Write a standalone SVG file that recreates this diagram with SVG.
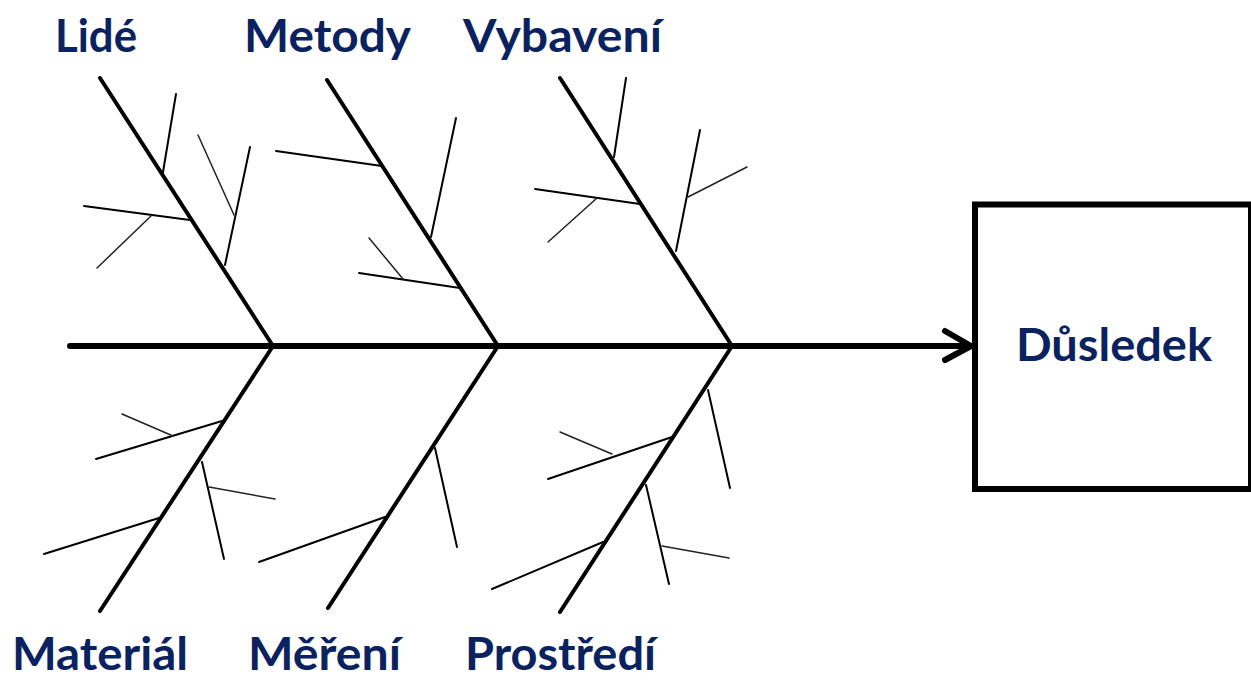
<svg xmlns="http://www.w3.org/2000/svg" width="1251" height="680" viewBox="0 0 1251 680">
  <style>
    .label { font-family: Lato, "Open Sans", "Liberation Sans", sans-serif; font-weight: bold; font-size: 46px; fill: #0b2260; }
    .bone { stroke: #000; stroke-width: 4; stroke-linecap: round; fill: none; }
    .cause { stroke: #000; stroke-width: 2; stroke-linecap: round; fill: none; }
    .sub { stroke: #222; stroke-width: 1.5; stroke-linecap: round; fill: none; }
    .spine { stroke: #000; stroke-width: 6; stroke-linecap: round; fill: none; }
    .box { fill: #fff; stroke: #000; stroke-width: 6; }
  </style>
  <defs>
    <marker id="arrow" markerUnits="userSpaceOnUse" markerWidth="40" markerHeight="40" refX="30" refY="20" orient="auto" overflow="visible">
      <path d="M4,5 L30,20 L4,34" fill="none" stroke="#000" stroke-width="6" stroke-linecap="round" stroke-linejoin="round"/>
    </marker>
  </defs>

  <rect width="1251" height="680" fill="#fff"/>

  <!-- main spine leading to the effect box -->
  <g id="connectors">
    <line class="spine" x1="70" y1="346" x2="971" y2="346" marker-end="url(#arrow)"/>
  </g>

  <!-- upper categories -->
  <g id="lide">
    <line class="bone" x1="100" y1="78" x2="273" y2="346"/>
    <line class="cause" x1="163" y1="172" x2="176" y2="94"/>
    <line class="cause" x1="190" y1="220" x2="84" y2="206"/>
    <line class="sub" x1="151" y1="216" x2="97" y2="268"/>
    <line class="cause" x1="225" y1="265" x2="250" y2="147"/>
    <line class="sub" x1="234" y1="215" x2="198" y2="135"/>
    <text class="label" x="55" y="52" textLength="82" lengthAdjust="spacingAndGlyphs">Lidé</text>
  </g>

  <g id="metody">
    <line class="bone" x1="327" y1="80" x2="498" y2="346"/>
    <line class="cause" x1="382" y1="166" x2="276" y2="151"/>
    <line class="cause" x1="431" y1="237" x2="456" y2="118"/>
    <line class="cause" x1="460" y1="288" x2="359" y2="273"/>
    <line class="sub" x1="403" y1="279" x2="369" y2="238"/>
    <text class="label" x="244" y="52" textLength="167" lengthAdjust="spacingAndGlyphs">Metody</text>
  </g>

  <g id="vybaveni">
    <line class="bone" x1="560" y1="78" x2="732" y2="346"/>
    <line class="cause" x1="614" y1="157" x2="626" y2="78"/>
    <line class="cause" x1="640" y1="204" x2="535" y2="189"/>
    <line class="sub" x1="597" y1="198" x2="548" y2="242"/>
    <line class="cause" x1="676" y1="251" x2="700" y2="130"/>
    <line class="sub" x1="688" y1="197" x2="747" y2="167"/>
    <text class="label" x="463" y="52" textLength="199" lengthAdjust="spacingAndGlyphs">Vybavení</text>
  </g>

  <!-- lower categories -->
  <g id="material">
    <line class="bone" x1="273" y1="346" x2="100" y2="611"/>
    <line class="cause" x1="222" y1="421" x2="96" y2="459"/>
    <line class="sub" x1="173" y1="436" x2="122" y2="414"/>
    <line class="cause" x1="202" y1="462" x2="224" y2="559"/>
    <line class="sub" x1="209" y1="487" x2="275" y2="499"/>
    <line class="cause" x1="159" y1="518" x2="44" y2="554"/>
    <text class="label" x="12" y="670" textLength="176" lengthAdjust="spacingAndGlyphs">Materiál</text>
  </g>

  <g id="mereni">
    <line class="bone" x1="498" y1="346" x2="328" y2="608"/>
    <line class="cause" x1="435" y1="448" x2="457" y2="547"/>
    <line class="cause" x1="385" y1="517" x2="259" y2="562"/>
    <text class="label" x="248" y="670" textLength="153" lengthAdjust="spacingAndGlyphs">Měření</text>
  </g>

  <g id="prostredi">
    <line class="bone" x1="732" y1="346" x2="560" y2="612"/>
    <line class="cause" x1="708" y1="390" x2="730" y2="488"/>
    <line class="cause" x1="672" y1="437" x2="548" y2="479"/>
    <line class="sub" x1="612" y1="454" x2="560" y2="432"/>
    <line class="cause" x1="646" y1="485" x2="669" y2="584"/>
    <line class="sub" x1="662" y1="546" x2="729" y2="558"/>
    <line class="cause" x1="603" y1="542" x2="492" y2="589"/>
    <text class="label" x="465" y="670" textLength="191" lengthAdjust="spacingAndGlyphs">Prostředí</text>
  </g>

  <!-- effect -->
  <g id="dusledek">
    <rect class="box" x="975" y="204.5" width="276" height="284.5"/>
    <text class="label" x="1016" y="361" textLength="196" lengthAdjust="spacingAndGlyphs">Důsledek</text>
  </g>
</svg>
